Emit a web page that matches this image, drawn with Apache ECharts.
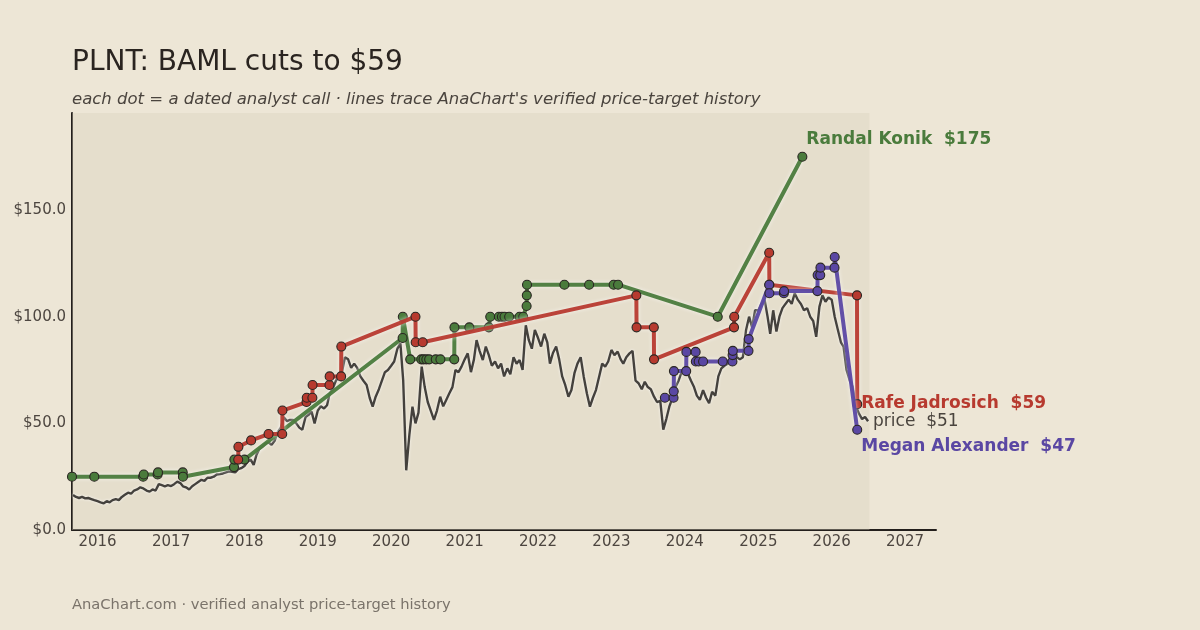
<!DOCTYPE html>
<html>
<head>
<meta charset="utf-8">
<script src="https://cdn.jsdelivr.net/npm/echarts@6/dist/echarts.min.js"></script>
<style>
  html, body { margin: 0; padding: 0; background: #ede6d6; }
  #chart { width: 1200px; height: 630px; }
</style>
</head>
<body>
<div id="chart"></div>
<script>
// share price, two readings a month (1st and 16th) starting Sep 2015
var priceStart = [2015, 8];
var priceValues = [
    16.4, 15.5, 15, 15.5, 14.8, 15, 14.5, 14,
    13.5, 13, 12.5, 13.5, 13, 14, 14.5, 14, 15.5, 16.5, 17.5, 17, 18.5, 19, 20, 19.5, 18.5, 18, 19, 18.5, 21.5, 21, 20.5, 21,
    20.6, 21.5, 22.7, 22, 20.5, 20, 19, 20.5, 21.5, 22.5, 23.5, 23, 24.5, 24.5, 25, 26, 26.2, 26.5, 27, 27.5, 27.3, 27, 28.5, 29,
    30, 32, 33, 30.5, 35, 38, 39, 40.6, 41, 40, 42, 46, 48, 52.8, 51, 51.6, 51.6, 50, 48, 47, 53, 54, 55.5, 50,
    56, 58, 57, 58.5, 64, 66, 70, 72, 74, 81, 80, 76, 78, 76, 72, 70, 68, 62, 57.8, 62.5, 66, 70, 74, 75,
    77, 79, 85, 87.5, 70, 28, 45, 57.8, 50, 55, 76.6, 67, 60, 56, 51.6, 56, 62.5, 58, 61, 64, 67, 75, 74, 76.6,
    80, 82.8, 74, 80, 89, 84, 79.7, 86, 82, 77, 79, 75.8, 78, 72, 75.8, 73, 81, 78, 79.7, 75, 96, 89, 85, 93.8,
    90, 86, 92, 88, 78, 83, 86, 80, 72, 68, 62.5, 65.6, 73.5, 78, 81, 72, 64, 57.8, 62, 65.6, 72, 78, 76.6, 79,
    84.4, 82, 83.6, 80, 78, 81, 82.8, 84, 70, 68.8, 66, 69.5, 67, 66, 62.5, 60, 60.5, 47, 52, 57.8, 62, 67, 70, 74,
    74, 73.4, 70, 67, 63, 61, 65.6, 62, 59.4, 64.8, 63, 72, 75.8, 77, 78, 80.5, 79.7, 81, 80, 81, 93.8, 100, 95, 103,
    103, 106, 108, 100, 92, 103, 93, 100, 104, 106, 108, 106, 111, 108, 106, 103, 104, 100, 98, 90.6, 104.7, 110, 107, 109,
    108, 100, 93.8, 88, 86, 75, 70, 67, 58, 54.7, 52, 53, 51
];

var konikDates = ['2015-08-27', '2015-12-16', '2016-08-15', '2016-08-18', '2016-10-26', '2016-10-28',
    '2017-02-28', '2017-03-01', '2017-11-10', '2017-11-12', '2018-01-01',
    '2020-02-27', '2020-02-28', '2020-04-05', '2020-05-30', '2020-06-10', '2020-06-24', '2020-07-08',
    '2020-08-10', '2020-09-02', '2020-11-10', '2020-11-11', '2021-01-24', '2021-05-01', '2021-05-08',
    '2021-06-20', '2021-07-05', '2021-07-18', '2021-08-10', '2021-10-01', '2021-10-19', '2021-11-05',
    '2021-11-06', '2021-11-07', '2022-05-12', '2022-09-12', '2023-01-12', '2023-02-03', '2024-06-13',
    '2025-08-08'];
var konikTargets = [25, 25, 25, 26, 26, 27,
    27, 25, 29.5, 33, 33,
    90, 100, 80, 80, 80, 80, 80,
    80, 80, 80, 95, 95, 95, 100,
    100, 100, 100, 100, 100, 100, 105,
    110, 115, 115, 115, 115, 115, 100,
    175];

var jadrosichDates = ['2017-12-01', '2017-12-02', '2018-02-03', '2018-05-01', '2018-07-08', '2018-07-09',
    '2018-11-06', '2018-11-07', '2018-12-05', '2018-12-06', '2019-02-28', '2019-03-01', '2019-04-27',
    '2019-04-28', '2020-05-01', '2020-05-02', '2020-06-06', '2023-05-05', '2023-05-06', '2023-07-31',
    '2023-08-01', '2024-09-02', '2024-09-03', '2025-02-24', '2025-02-25', '2026-05-07', '2026-05-08'];
var jadrosichTargets = [33, 39, 42, 45, 45, 56,
    60, 62, 62, 68, 68, 72, 72,
    86, 100, 88, 88, 110, 95, 95,
    80, 95, 100, 130, 115, 110, 59];

var alexanderDates = ['2023-09-24', '2023-11-06', '2023-11-07', '2023-11-08', '2024-01-08', '2024-01-09',
    '2024-02-24', '2024-02-25', '2024-03-10', '2024-04-01', '2024-07-08', '2024-08-25', '2024-08-26',
    '2024-08-27', '2024-11-13', '2024-11-14', '2025-02-24', '2025-02-25', '2025-05-08', '2025-05-09',
    '2025-10-22', '2025-10-23', '2025-11-05', '2025-11-06', '2026-01-15', '2026-01-16', '2026-05-08'];
var alexanderTargets = [62, 62, 65, 74.5, 74.5, 83.5,
    83.5, 79, 79, 79, 79, 79, 82,
    84, 84, 89.5, 115, 111, 111, 112,
    112, 119.5, 119.5, 123, 123, 128, 47];

var analystNames = ['Randal Konik', 'Rafe Jadrosich', 'Megan Alexander'];
var analystColors = ['#4a7b3c', '#b73a2f', '#5a47a3'];

var yearTicks = [2016, 2017, 2018, 2019, 2020, 2021, 2022, 2023, 2024, 2025, 2026, 2027];
var yTicks = [0, 50, 100, 150];

function pad(n) { return (n < 10 ? '0' : '') + n; }
function toTime(s) { return new Date(s + 'T00:00:00').getTime(); }

var priceData = priceValues.map(function (v, i) {
    var m = priceStart[1] + Math.floor(i / 2);
    var y = priceStart[0] + Math.floor(m / 12);
    return [toTime(y + '-' + pad(m % 12 + 1) + '-' + (i % 2 ? '16' : '01')), v];
});

function zip(dates, vals) {
    return dates.map(function (d, i) { return [toTime(d), vals[i]]; });
}

function analystSeries(idx, dates, vals, dy) {
    return {
        type: 'line',
        name: analystNames[idx],
        data: zip(dates, vals),
        symbol: 'circle',
        symbolSize: 9,
        itemStyle: { color: analystColors[idx], borderColor: '#2a2622', borderWidth: 1.1 },
        lineStyle: {
            color: analystColors[idx], width: 4, opacity: 0.95,
            shadowColor: 'rgba(255,255,255,0.7)', shadowBlur: 4
        },
        emphasis: { disabled: true },
        endLabel: {
            show: true,
            distance: 4,
            offset: [0, dy],
            formatter: analystNames[idx] + '  $' + vals[vals.length - 1],
            color: analystColors[idx],
            fontFamily: 'DejaVu Sans',
            fontWeight: 'bold',
            fontSize: 17
        },
        z: 3 + idx
    };
}

var dom = document.getElementById('chart');
var myChart = echarts.init(dom);
var font = 'DejaVu Sans';

var option = {
    backgroundColor: '#ede6d6',
    animation: false,
    title: [{
        text: 'PLNT: BAML cuts to $59',
        left: 72, top: 49, padding: 0,
        textStyle: { fontFamily: font, fontSize: 28, fontWeight: 'normal', color: '#2a2420' }
    }, {
        text: "each dot = a dated analyst call \u00b7 lines trace AnaChart's verified price-target history",
        left: 72, top: 91, padding: 0,
        textStyle: { fontFamily: font, fontSize: 16.5, fontStyle: 'italic', fontWeight: 'normal', color: '#4a443e' }
    }, {
        text: 'AnaChart.com \u00b7 verified analyst price-target history',
        left: 72, top: 598, padding: 0,
        textStyle: { fontFamily: font, fontSize: 14.7, fontWeight: 'normal', color: '#7a736a' }
    }],
    grid: { left: 72, right: 264, top: 113, bottom: 100 },
    xAxis: {
        type: 'value',
        min: toTime('2015-08-27'),
        max: toTime('2027-06-04'),
        axisLine: { show: true, lineStyle: { color: '#231f1c', width: 2 } },
        axisTick: { show: false },
        splitLine: { show: false },
        axisLabel: {
            customValues: yearTicks.map(function (y) { return toTime(y + '-01-01'); }),
            formatter: function (v) { return String(new Date(v).getFullYear()); },
            fontFamily: font, fontSize: 15, color: '#4d4640', margin: 5
        }
    },
    yAxis: {
        type: 'value',
        min: 0,
        max: 195.5,
        axisLine: { show: true, lineStyle: { color: '#231f1c', width: 2 } },
        axisTick: { show: false },
        splitLine: { show: false },
        axisLabel: {
            customValues: yTicks,
            formatter: function (v) { return '$' + v.toFixed(1); },
            fontFamily: font, fontSize: 15, color: '#4d4640', margin: 6,
            padding: [3, 0, 0, 0]
        }
    },
    series: [{
        type: 'line',
        name: 'price',
        data: priceData,
        showSymbol: false,
        symbol: 'none',
        lineStyle: { color: '#44413d', width: 2.4, shadowColor: 'rgba(255,255,255,0.8)', shadowBlur: 3 },
        emphasis: { disabled: true },
        markArea: {
            silent: true,
            itemStyle: { color: 'rgba(215,205,185,0.35)' },
            data: [[{ xAxis: toTime('2015-08-27') }, { xAxis: toTime('2026-07-08') }]]
        },
        endLabel: {
            show: true,
            distance: 5,
            formatter: 'price  $' + priceValues[priceValues.length - 1],
            color: '#4a443e',
            fontFamily: font,
            fontSize: 17
        },
        z: 2
    },
        analystSeries(0, konikDates, konikTargets, -17),
        analystSeries(1, jadrosichDates, jadrosichTargets, -1),
        analystSeries(2, alexanderDates, alexanderTargets, 17)
    ]
};

if (option && typeof option === 'object') {
    myChart.setOption(option);
}
</script>
</body>
</html>
